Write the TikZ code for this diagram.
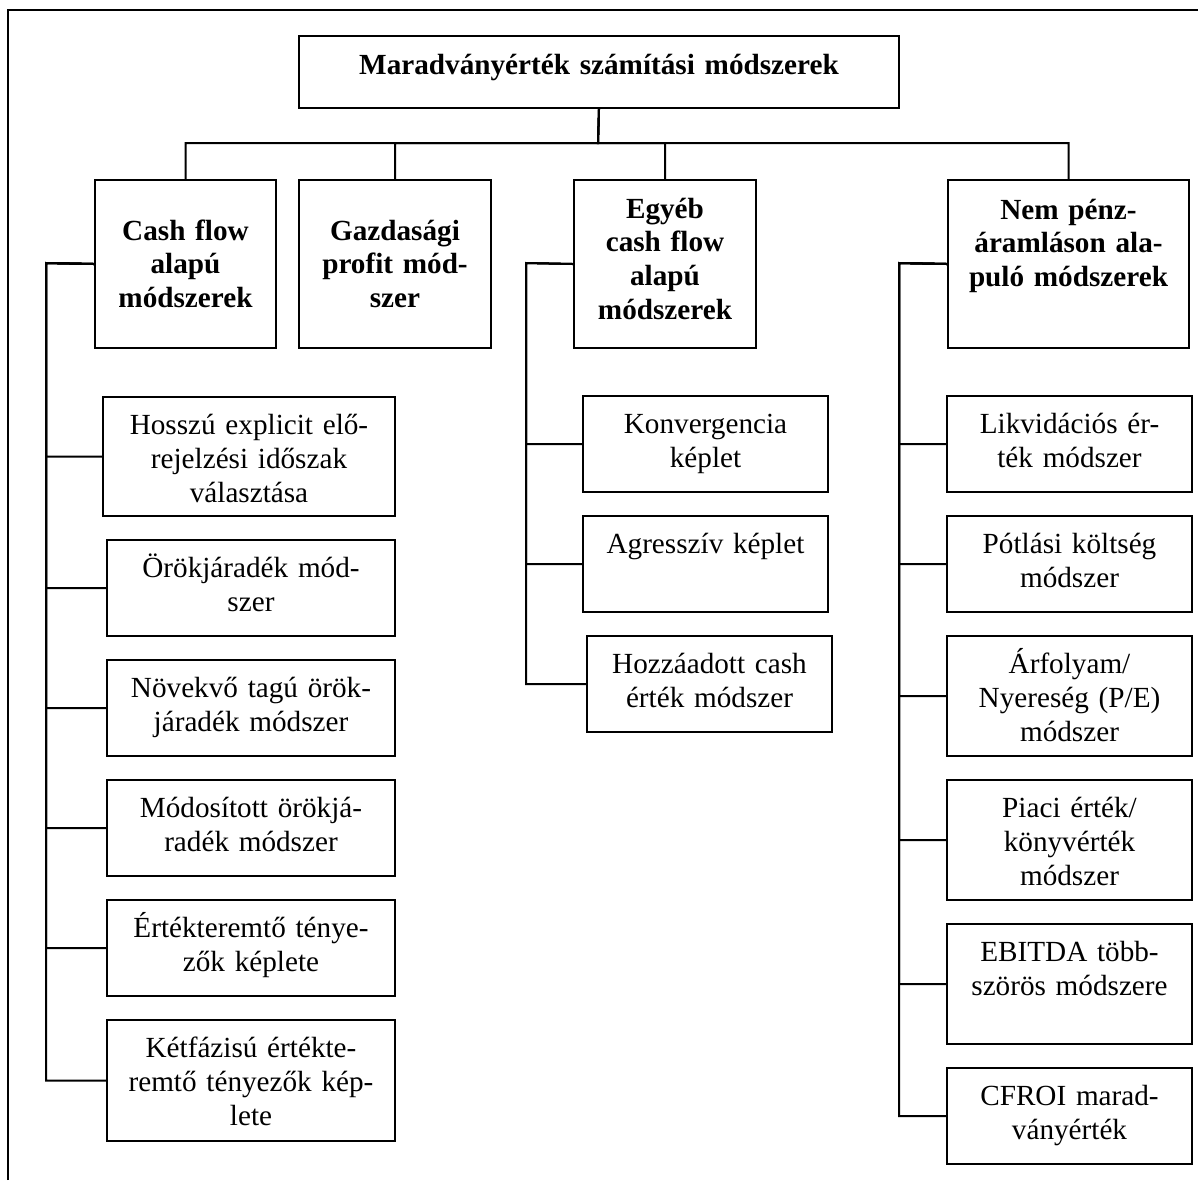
\documentclass[tikz,border=0pt]{standalone}
\usepackage{fontspec}
\setmainfont{Liberation Serif}
\usetikzlibrary{positioning}

\begin{document}
\begin{tikzpicture}[x=0.5pt,y=-0.5pt,font=\fontsize{14.6}{17.2}\selectfont]
\tikzstyle{frame}=[line width=1.2pt]
\tikzstyle{box}=[draw,line width=1pt,inner sep=0pt,align=center,anchor=north west]
\tikzstyle{head}=[box,font=\fontsize{14.6}{16.9}\selectfont\bfseries]
\tikzstyle{leaf}=[box,text width=122.5pt,text height=18.5pt,text depth=29.5pt]
\tikzstyle{tall}=[leaf,text depth=41.5pt]
\tikzstyle{edge}=[draw,line width=1pt,-]

\useasboundingbox (0,0) rectangle (1198,1180);
\draw[frame] (8,1180) -- (8,10) -- (1198,10);

% top of the tree
\draw (298,35) node[head,text width=300pt,text height=19pt,text depth=17pt] (root) {Maradványérték számítási módszerek};

\draw (94,179) node[head,text width=90.5pt,text height=30pt,text depth=54pt] (cash) {Cash flow\\alapú\\módszerek};
\draw (298,179) node[head,text width=96pt,text height=30pt,text depth=54pt] (gazd) {Gazdasági\\profit mód-\\szer};
\draw (573,179) node[head,text width=91pt,text height=19pt,text depth=65pt] (egyeb) {Egyéb\\cash flow\\alapú\\módszerek};
\draw (947,179) node[head,text width=120.5pt,text height=19.5pt,text depth=64.5pt] (nem) {Nem pénz-\\áramláson ala-\\puló módszerek};

\coordinate (bus) at (598,143);
\foreach \n in {cash,gazd,egyeb,nem}
  \path[edge] (root.south) -- (bus) -| (\n.north);

% cash flow based
\draw (102,396) node[tall,text width=146pt,text depth=41pt] (hossz) {Hosszú explicit elő-\\rejelzési időszak\\választása};
\draw (106,539) node[leaf,text width=144pt] (orok) {Örökjáradék mód-\\szer};
\draw (106,659) node[leaf,text width=144pt] (novek) {Növekvő tagú örök-\\járadék módszer};
\draw (106,779) node[leaf,text width=144pt] (modos) {Módosított örökjá-\\radék módszer};
\draw (106,899) node[leaf,text width=144pt] (ertek) {Értékteremtő ténye-\\zők képlete};
\draw (106,1019) node[tall,text width=144pt,text depth=42pt] (ketf) {Kétfázisú értékte-\\remtő tényezők kép-\\lete};

\coordinate (cs) at (46,263);
\foreach \n in {hossz,orok,novek,modos,ertek,ketf}
  \path[edge] (cash.west) -- (cs) |- (\n.west);

% other cash flow based
\draw (582,395) node[leaf] (konv) {Konvergencia\\képlet};
\draw (582,515) node[leaf] (agr) {Agresszív képlet};
\draw (586,635) node[leaf] (hozza) {Hozzáadott cash\\érték módszer};

\coordinate (es) at (526,263);
\foreach \n in {konv,agr,hozza}
  \path[edge] (egyeb.west) -- (es) |- (\n.west);

% not cash flow based
\draw (946,395) node[leaf] (likv) {Likvidációs ér-\\ték módszer};
\draw (946,515) node[leaf] (potl) {Pótlási költség\\módszer};
\draw (946,635) node[tall] (arf) {Árfolyam/\\Nyereség (P/E)\\módszer};
\draw (946,779) node[tall] (piaci) {Piaci érték/\\könyvérték\\módszer};
\draw (946,923) node[tall] (ebitda) {EBITDA több-\\szörös módszere};
\draw (946,1067) node[leaf] (cfroi) {CFROI marad-\\ványérték};

\coordinate (ns) at (899,263);
\foreach \n in {likv,potl,arf,piaci,ebitda,cfroi}
  \path[edge] (nem.west) -- (ns) |- (\n.west);
\end{tikzpicture}
\end{document}
